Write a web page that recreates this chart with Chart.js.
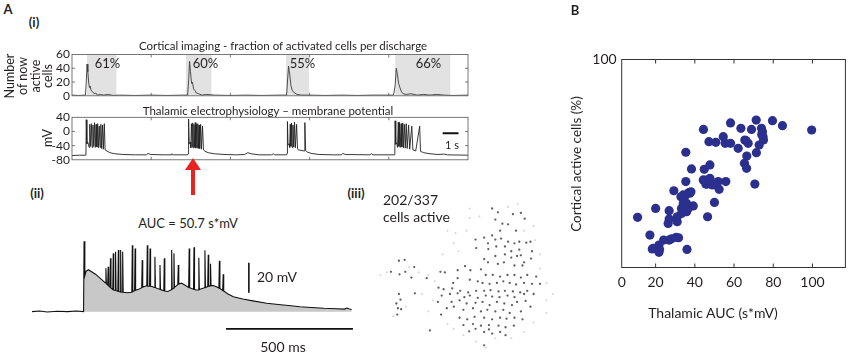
<!DOCTYPE html>
<html><head><meta charset="utf-8">
<script src="https://cdn.jsdelivr.net/npm/chart.js@4.4.1/dist/chart.umd.min.js"></script>
<style>
html,body{margin:0;padding:0;background:#fff;width:850px;height:358px;overflow:hidden;font-family:Lato,"Open Sans",sans-serif;color:#231f20}
canvas{position:absolute}
.t{position:absolute;white-space:nowrap;line-height:1;transform:translate(-50%,-50%)}
.l{position:absolute;white-space:nowrap;line-height:1;transform:translate(0,-50%)}
.b{font-weight:bold}
.r{transform:translate(-50%,-50%) rotate(-90deg);text-align:center}
</style></head><body>

<script>
// ---------- DATA ----------
// A(i) cortical imaging: number of newly active cells vs time (s)
const corticalTrace = [[0,1],[0.4,0.5],[0.85,1],[0.9,20],[0.95,46],[1.0,35],[1.05,20],[1.1,12],[1.15,14],[1.2,8],[1.3,6],[1.4,3],[1.5,4],[1.6,1],[1.8,2],[2.0,1],[2.3,2],[2.6,0.5],[3.0,1],[4,0.5],[5,1],[6,0.5],[7,1],[7.3,1],[7.37,25],[7.42,50],[7.48,35],[7.55,18],[7.6,20],[7.68,10],[7.75,8],[7.85,4],[8,3],[8.2,1],[8.5,2],[9,1],[10,0.5],[11,1],[12,0.5],[13,1],[13.55,1],[13.6,20],[13.67,43],[13.75,30],[13.82,15],[13.9,8],[14.0,5],[14.2,2],[14.5,1],[15,1],[16,0.5],[17,1],[18,0.5],[19,1],[20.3,1],[20.4,15],[20.47,40],[20.55,30],[20.62,18],[20.7,12],[20.8,6],[20.9,3],[21.1,2],[21.4,3],[21.8,1],[22.2,2],[22.6,1],[23.0,2],[23.5,1],[24,0.5],[25,1]];
const corticalYTicks = [0,20,40,60];
const dischargeLabels = ['61%','60%','55%','66%'];
const windowStart = [0.93, 7.18, 13.5, 20.4];
const windowEnd = [2.82, 8.82, 14.96, 23.9];
// A(i) thalamic membrane potential (mV) vs time (s)
const thalamicTrace = [[0,-68],[0.5,-67],[0.86,-67],[0.88,-64],[0.9,33],[0.94,-35],[1.0,-30],[1.08,-45],[1.12,20],[1.17,-42],[1.22,22],[1.27,-45],[1.32,18],[1.37,-42],[1.42,25],[1.47,-45],[1.52,20],[1.57,-44],[1.62,22],[1.67,-46],[1.72,15],[1.77,-45],[1.82,20],[1.87,-48],[1.93,18],[1.98,-50],[2.04,22],[2.09,-52],[2.2,-55],[2.4,-60],[2.7,-63],[3.2,-65],[4.0,-66],[4.7,-66],[4.8,-62],[4.95,-65],[5.8,-66],[6.25,-66],[6.3,-63],[6.4,-66],[7.3,-66],
[7.33,-63],[7.36,35],[7.4,-35],[7.46,-30],[7.5,-46],[7.54,22],[7.58,-44],[7.62,24],[7.66,-46],[7.7,20],[7.74,-45],[7.78,25],[7.82,-47],[7.86,20],[7.9,-46],[7.94,22],[7.98,-48],[8.02,18],[8.06,-48],[8.12,20],[8.17,-50],[8.24,15],[8.3,-52],[8.4,-56],[8.6,-60],[9.0,-63],[9.6,-65],[10.4,-66],[10.9,-65],[11.1,-60],[11.3,-63],[11.8,-66],[12.6,-66],[12.7,-63],[12.8,-66],[13.55,-66],
[13.58,-62],[13.6,28],[13.64,-38],[13.7,-35],[13.74,-45],[13.78,20],[13.82,-42],[13.86,24],[13.9,-45],[13.95,18],[14.0,-44],[14.05,26],[14.1,-46],[14.18,20],[14.24,-50],[14.3,-52],[14.65,-55],[14.7,25],[14.75,-54],[14.85,-58],[15.1,-62],[15.6,-65],[16.5,-66],[17.0,-66],[17.1,-62],[17.25,-65],[18.8,-66],[18.9,-63],[19.0,-66],[20.35,-66],
[20.38,-62],[20.4,30],[20.44,-36],[20.5,-32],[20.55,-45],[20.6,26],[20.64,-42],[20.68,25],[20.72,-45],[20.78,22],[20.82,-44],[20.88,24],[20.92,-46],[20.98,20],[21.04,-47],[21.1,22],[21.16,-48],[21.25,18],[21.32,-50],[21.45,15],[21.52,-52],[21.7,-55],[21.95,15],[22.0,-56],[22.2,-60],[22.6,-63],[23.1,-65],[23.5,-64],[23.7,-66],[25,-67]];
const thalamicYTicks = [-80,-40,0,40];
// A(ii) expanded discharge, time (ms) vs membrane potential above baseline (mV)
const aucTrace = [[0,0],[30,0.4],[60,-0.2],[100,0.3],[140,0],[175,0.4],[203,0],[205,47],[208,24],[213,27],[222,28],[250,25],[270,22],[289,19.2],[291,29],[293,18.6],[298,17.8],[300,30],[302,17.2],[307,16.3],[309,35.6],[311,15.8],[318,14.8],[320,38.9],[322,14.5],[327,14.2],[329,40],[331,14],[338,13.6],[340,41.1],[342,13.5],[347,13.2],[349,41.1],[351,13.1],[355,13],[357,40],[359,13],[375,12.6],[393,13],[395,44.4],[397,13.4],[404,14],[406,42.2],[408,14.3],[420,15],[432,16],[434,34.4],[436,16.4],[445,17],[452,17.2],[454,44.4],[456,17],[463,17],[465,42.2],[467,17],[472,16.8],[482,16.2],[484,36.7],[486,16],[502,15],[504,31.1],[506,14.8],[519,14],[521,35.6],[523,13.8],[535,13.5],[548,14.6],[550,41.1],[552,15],[557,15.6],[559,38.9],[561,16.2],[574,18],[576,31.1],[578,18.4],[589,19],[605,17.5],[617,16.2],[619,42.2],[621,16],[636,15],[638,43],[640,14.8],[648,14.5],[655,14.5],[657,36],[659,14.8],[679,16],[681,41],[683,16.2],[692,16.8],[694,38],[696,17],[701,17.2],[703,32],[705,17.4],[714,17.5],[728,16.5],[736,15.8],[738,34],[740,15.5],[751,14.2],[753,25],[755,13.8],[770,12],[793,10],[830,8.5],[870,7.2],[924,5.6],[980,4.6],[1020,4],[1055,3.3],[1100,2.8],[1150,2.3],[1200,2],[1230,1.7],[1240,2.4],[1250,1.8],[1259,1.5]];
const mvBar = [854, 12.7, 20];      // time, start, length (mV)
const msBar = [764, -11.5, 500];    // start time, level, length (ms)
const secBar = [23.4, -5, 1];       // start time (s), level (mV), length (s)
// A(iii) imaged cell positions (field coordinates)
const activeCells = [[370,30],[388,42],[435,48],[460,44],[380,65],[402,78],[420,80],[472,62],[395,100],[445,100],[370,115],[318,128],[345,122],[357,140],[380,128],[398,125],[420,135],[440,140],[455,135],[477,138],[490,135],[320,155],[358,158],[383,150],[410,150],[430,165],[455,160],[495,165],[380,180],[410,175],[430,185],[448,180],[460,178],[470,200],[492,188],[345,190],[357,200],[388,205],[407,200],[440,210],[465,210],[78,195],[96,192],[53,230],[80,238],[98,230],[126,215],[117,248],[165,250],[128,298],[78,300],[83,318],[70,330],[75,345],[85,348],[73,365],[208,230],[222,232],[262,225],[285,212],[302,225],[335,222],[350,240],[372,240],[395,245],[418,240],[440,240],[460,248],[480,240],[508,245],[262,250],[248,265],[300,255],[325,260],[340,265],[362,268],[385,265],[405,260],[425,265],[445,270],[470,265],[495,268],[202,280],[218,285],[245,282],[270,290],[295,295],[320,290],[345,290],[365,288],[390,292],[410,290],[435,292],[458,295],[480,290],[520,268],[212,305],[238,300],[262,298],[283,310],[300,305],[325,312],[350,305],[370,308],[393,310],[418,305],[440,310],[470,300],[500,300],[200,325],[243,325],[268,320],[290,330],[318,328],[340,325],[362,335],[385,325],[408,330],[432,335],[448,325],[475,322],[490,340],[228,345],[250,340],[280,350],[310,345],[335,355],[355,350],[380,355],[405,350],[425,360],[460,355],[210,365],[268,375],[292,380],[315,372],[345,375],[370,380],[395,375],[415,378],[440,375],[465,380],[280,398],[310,395],[335,400],[360,398],[390,400],[412,405],[438,400],[360,412],[318,410],[298,418],[345,420],[370,425],[395,420],[412,430],[175,415],[345,462]];
const inactiveCells = [[20,240],[40,232],[140,232],[170,240],[300,60],[330,55],[290,100],[250,140],[265,165],[215,175],[60,370],[100,340],[170,355],[150,300],[520,220],[540,265],[560,300],[540,320],[500,390],[470,420],[250,410],[280,430],[320,450],[380,440],[430,440],[505,130],[520,175],[350,470],[110,215],[190,260],[185,320],[230,395],[540,360],[470,100],[500,85],[300,30],[420,25],[450,15],[230,100],[255,108]];
// B: thalamic AUC (s*mV) vs cortical active cells (%)
const thalamicAUC = [10.8,17.1,18.3,20.0,20.8,21.7,21.7,22.0,18.8,24.1,26.9,26.9,26.4,26.9,28.1,29.3,31.0,31.0,31.7,32.9,33.2,34.1,34.1,35.1,35.4,35.4,35.8,35.8,36.6,37.0,37.5,38.0,38.3,39.2,36.0,44.4,44.3,44.8,45.6,46.5,46.3,47.2,47.7,47.7,48.9,50.0,50.7,51.9,52.4,54.5,55.5,55.8,58.2,58.2,62.1,63.5,65.5,66.0,66.5,65.3,66.4,67.2,68.9,70.6,71.3,71.4,72.8,74.0,74.5,74.8,75.0,74.1,79.6,84.7,99.6,30.5,33.2,45.8];
const corticalActive = [24.1,15.6,8.9,28.4,9.2,10.8,7.3,8.7,9.2,13.2,27.3,23.3,21.2,13.2,13.8,36.9,24.4,22.0,14.3,34.0,26.0,30.8,34.9,34.5,55.4,41.3,30.8,26.8,28.4,36.0,35.7,36.4,47.4,29.6,8.7,66.4,42.1,47.2,40.1,24.4,40.1,60.5,49.3,42.9,39.7,31.3,60.2,41.3,37.6,62.9,59.7,41.3,69.5,59.7,57.3,66.9,61.3,61.0,53.6,50.1,47.7,59.7,66.4,40.1,70.9,55.2,58.9,66.9,65.3,62.9,61.3,64.0,70.6,68.2,66.1,14.5,28.4,42.0];
const xTicksB = [0,20,40,60,80,100];
const yTicksB = [100];

// ---------- helpers ----------
const FONT = 'Lato, "Open Sans", sans-serif';
const INK = '#231f20';
const pts = a => a.map(p => ({x:p[0], y:p[1]}));
const framePlugin = {
  id:'frame',
  afterDatasetsDraw(chart, args, o){
    if(!o || !o.show) return;
    const {ctx, chartArea:a, scales} = chart;
    ctx.save();
    ctx.strokeStyle = o.color; ctx.lineWidth = o.width;
    ctx.strokeRect(a.left, a.top, a.right-a.left, a.bottom-a.top);
    ctx.beginPath();
    (o.xTicks||[]).forEach(v=>{
      const x = scales.x.getPixelForValue(v);
      ctx.moveTo(x, a.bottom); ctx.lineTo(x, a.bottom-o.len);
      ctx.moveTo(x, a.top); ctx.lineTo(x, a.top+o.len);
    });
    (o.yTicks||[]).forEach(v=>{
      const y = scales.y.getPixelForValue(v);
      ctx.moveTo(a.left, y); ctx.lineTo(a.left+o.len, y);
      ctx.moveTo(a.right, y); ctx.lineTo(a.right-o.len, y);
    });
    ctx.stroke();
    ctx.restore();
  }
};
function addCanvas(left, top, w, h){
  const c = document.createElement('canvas');
  c.width = w; c.height = h;
  c.style.left = left+'px'; c.style.top = top+'px';
  c.style.width = w+'px'; c.style.height = h+'px';
  document.body.appendChild(c);
  return c;
}
function addText(txt, x, y, size, cls, extra){
  const d = document.createElement('div');
  d.className = cls || 't';
  d.textContent = txt;
  d.style.left = x+'px'; d.style.top = y+'px';
  d.style.fontSize = size+'px';
  if (extra) Object.assign(d.style, extra);
  document.body.appendChild(d);
  return d;
}
Chart.defaults.font.family = FONT;
Chart.defaults.color = INK;
Chart.defaults.animation = false;
const base = {responsive:false, maintainAspectRatio:false, animation:false, events:[]};
const noLegend = {legend:{display:false}, tooltip:{enabled:false}};
const tickList = list => (s => { s.ticks = list.map(v => ({value:v})); });
const noGrid = {display:false, drawTicks:false, tickLength:0};

// ---------- A(i) cortical ----------
(function(){
  const ds = [{data:pts(corticalTrace), borderColor:'#3a3a3a', borderWidth:0.9, pointRadius:0, fill:false, order:0}];
  windowStart.forEach((s,i)=>{
    ds.push({data:[{x:s,y:60},{x:windowEnd[i],y:60}], borderWidth:0, pointRadius:0, backgroundColor:'#e2e2e2', fill:'origin', order:1});
  });
  new Chart(addCanvas(0,44,470,61), {type:'line', data:{datasets:ds}, plugins:[framePlugin],
    options:{...base, layout:{padding:{top:10.5,bottom:8.3,right:2,left:0}},
      plugins:{...noLegend, frame:{show:true,color:'#555',width:0.8,len:3,xTicks:[5,10,15,20],yTicks:[20,40]}},
      scales:{
        x:{type:'linear', min:0, max:25, display:false},
        y:{min:0, max:60, afterFit:s=>{s.width=72;}, afterBuildTicks:tickList(corticalYTicks),
           grid:noGrid, border:{display:false},
           ticks:{autoSkip:false, padding:2, font:{size:12}}}
      }}});
})();

// ---------- A(i) thalamic ----------
(function(){
  const ds = [
    {data:pts(thalamicTrace), borderColor:'#222', borderWidth:0.9, pointRadius:0, fill:false},
    {data:[{x:secBar[0],y:secBar[1]},{x:secBar[0]+secBar[2],y:secBar[1]}], borderColor:'#111', borderWidth:1.8, pointRadius:0}
  ];
  new Chart(addCanvas(0,107,470,62), {type:'line', data:{datasets:ds}, plugins:[framePlugin],
    options:{...base, layout:{padding:{top:10.3,bottom:9,right:2,left:0}},
      plugins:{...noLegend, frame:{show:true,color:'#555',width:0.8,len:3,xTicks:[5,10,15,20],yTicks:[0,-40]}},
      scales:{
        x:{type:'linear', min:0, max:25, display:false},
        y:{min:-80, max:40, afterFit:s=>{s.width=72;}, afterBuildTicks:tickList(thalamicYTicks),
           grid:noGrid, border:{display:false},
           ticks:{autoSkip:false, padding:2, font:{size:12}}}
      }}});
})();

// ---------- A(ii) expanded trace ----------
(function(){
  const ds = [
    {data:pts(aucTrace), borderColor:'#111', borderWidth:1.1, pointRadius:0, backgroundColor:'#c8c8c8', fill:{value:0}},
    {data:[{x:mvBar[0],y:mvBar[1]},{x:mvBar[0],y:mvBar[1]+mvBar[2]}], borderColor:'#111', borderWidth:1.6, pointRadius:0},
    {data:[{x:msBar[0],y:msBar[1]},{x:msBar[0]+msBar[2],y:msBar[1]}], borderColor:'#111', borderWidth:1.6, pointRadius:0}
  ];
  new Chart(addCanvas(30,236,326,98), {type:'line', data:{datasets:ds},
    options:{...base, layout:{padding:0}, plugins:noLegend,
      scales:{x:{type:'linear', min:-8, max:1276, display:false}, y:{min:-14.9, max:50.5, display:false}}}});
})();

// ---------- A(iii) cell map ----------
(function(){
  const ds = [
    {data:pts(activeCells), backgroundColor:'#5f5f5f', pointRadius:1.15, borderWidth:0},
    {data:pts(inactiveCells), backgroundColor:'#dadada', pointRadius:1.1, borderWidth:0}
  ];
  new Chart(addCanvas(370,195,190,160), {type:'scatter', data:{datasets:ds},
    options:{...base, layout:{padding:0}, plugins:noLegend,
      scales:{x:{min:0, max:570, display:false}, y:{min:0, max:480, reverse:true, display:false}}}});
})();

// ---------- B scatter ----------
(function(){
  const XMIN = 2.7;
  const data = thalamicAUC.map((v,i)=>({x:v, y:corticalActive[i]}));
  new Chart(addCanvas(560,0,290,358), {type:'scatter',
    data:{datasets:[{data, backgroundColor:'#2b2f8e', pointRadius:4.6, borderWidth:0}]},
    plugins:[framePlugin],
    options:{...base, layout:{padding:{top:59.5,right:4.3,left:0,bottom:0}},
      plugins:{...noLegend, frame:{show:true,color:'#333',width:1,len:4,xTicks:[20,40,60,80,100]}},
      scales:{
        x:{type:'linear', min:XMIN, max:116.8, afterFit:s=>{s.height=90.5;},
           afterBuildTicks:s=>{s.ticks = xTicksB.map(v=>({value: v===0?XMIN:v}));},
           grid:noGrid, border:{display:false},
           ticks:{autoSkip:false, maxRotation:0, padding:7, font:{size:14}, callback:v=> v===XMIN ? '0' : String(v)}},
        y:{min:0, max:100, afterFit:s=>{s.width=61.7;},
           afterBuildTicks:tickList(yTicksB),
           grid:noGrid, border:{display:false},
           ticks:{padding:5, font:{size:14}}}
      }}});
})();

// ---------- text ----------
addText('A', 8, 9, 13, 't b');
addText('B', 575, 10, 13, 't b');
addText('(i)', 34, 22, 13, 't b');
addText('Cortical imaging - fraction of activated cells per discharge', 283, 46, 11.5);
const nl = addText('', 30, 76, 12.5, 't r');
nl.innerHTML = 'Number<br>of now<br>active<br>cells'; nl.style.lineHeight = '12.8px';
dischargeLabels.forEach((s,i)=>{
  const cx = [107.5,205.5,302.5,428.5][i];
  addText(s, cx, 63, 13);
});
addText('Thalamic electrophysiology \u2013 membrane potential', 268, 111, 11.5);
addText('mV', 48, 138, 12.5, 't r');
addText('1 s', 452, 144, 11);
addText('(ii)', 37, 193, 13, 't b');
addText('(iii)', 356, 193, 13, 't b');
addText('AUC = 50.7 s*mV', 188, 223, 13);
addText('20 mV', 257, 277, 14, 'l');
addText('500 ms', 283, 347, 14);
addText('202/337', 383, 200, 14, 'l');
addText('cells active', 383, 217, 14, 'l');
addText('Thalamic AUC (s*mV)', 713, 313, 14);
addText('Cortical active cells (%)', 577, 164, 13.5, 't r');
</script>
<svg style="position:absolute;left:180px;top:150px" width="28" height="50">
  <polygon points="13,8 5,20 11,20 11,45 15,45 15,20 21,20" fill="#e8231f"/>
</svg>
</body></html>
